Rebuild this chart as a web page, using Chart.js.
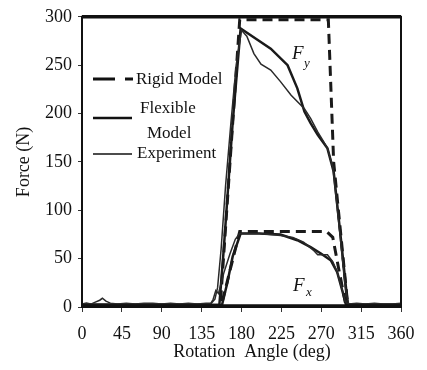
<!DOCTYPE html>
<html>
<head>
<meta charset="utf-8">
<script src="https://cdn.jsdelivr.net/npm/chart.js@4/dist/chart.umd.min.js"></script>
<style>
  html, body { margin: 0; padding: 0; background: #fff; }
  #wrap { width: 427px; height: 370px; }
</style>
</head>
<body>
<div id="wrap"><canvas id="myChart" width="427" height="370"></canvas></div>
<script>
// Tick labels
const xTicks = [0, 45, 90, 135, 180, 225, 270, 315, 360];
const yTicks = [0, 50, 100, 150, 200, 250, 300];

// Fy curves
const rigidFyAngle = [0, 156, 178, 278, 284, 300, 360];
const rigidFyForce = [1, 1, 297, 297, 150, 1, 1];

const flexFyAngle = [0, 155, 160, 165, 170, 179, 195, 213, 232, 243, 251, 258, 266, 277, 284, 292, 300, 360];
const flexFyForce = [2, 2, 60, 125, 190, 288, 278, 267, 250, 226, 202, 190, 178, 164, 140, 72, 2, 2];

const expFyAngle = [0, 5, 10, 15, 20, 23, 27, 32, 40, 50, 60, 70, 80, 90, 100, 110, 120, 130, 140, 146, 150, 153, 157, 162, 168, 174, 180, 186, 194, 202, 213, 224, 236, 251, 258, 266, 272, 277, 283, 290, 297, 301, 310, 320, 330, 340, 350, 360];
const expFyForce = [3, 4, 3, 5, 7, 9, 6, 4, 3, 4, 3, 4, 4, 3, 4, 3, 4, 3, 4, 4, 8, 20, 60, 125, 190, 250, 286, 280, 262, 251, 245, 233, 219, 205, 195, 181, 172, 164, 145, 85, 20, 3, 4, 3, 4, 3, 3, 4];

// Fx curves
const rigidFxAngle = [0, 157, 178, 276, 283, 290, 298, 360];
const rigidFxForce = [1, 1, 78, 78, 72, 38, 1, 1];

const flexFxAngle = [0, 158, 164, 170, 179, 200, 224, 243, 258, 270, 281, 288, 294, 298, 360];
const flexFxForce = [2, 2, 25, 52, 76, 76, 75, 69, 62, 55, 48, 36, 16, 2, 2];

const expFxAngle = [0, 145, 148, 151, 154, 160, 167, 173, 178, 200, 224, 238, 250, 262, 266, 277, 283, 288, 293, 297, 300, 360];
const expFxForce = [3, 3, 8, 17, 14, 35, 55, 70, 76, 76, 74, 72, 67, 58, 54, 54, 47, 36, 20, 6, 3, 3];

function points(angles, forces) {
    return angles.map((a, i) => ({ x: a, y: forces[i] }));
}

const rigidStyle = { borderColor: '#1a1a1a', borderWidth: 3, borderDash: [10, 6] };
const flexStyle = { borderColor: '#1a1a1a', borderWidth: 2.5 };
const expStyle = { borderColor: '#2a2a2a', borderWidth: 1.5 };

const serif = '"Liberation Serif", "DejaVu Serif", serif';

// Frame, legend, axis title and curve labels
const decorations = {
    id: 'decorations',
    afterDraw(chart) {
        const c = chart.ctx;
        const a = chart.chartArea;
        c.save();
        c.strokeStyle = '#111';
        c.lineWidth = 2;
        c.strokeRect(a.left, a.top, a.right - a.left, a.bottom - a.top);
        c.lineWidth = 3.5;
        c.beginPath();
        c.moveTo(a.left, a.top); c.lineTo(a.right, a.top);
        c.moveTo(a.left, a.bottom - 1); c.lineTo(a.right, a.bottom - 1);
        c.stroke();

        // legend samples
        c.lineWidth = 3;
        c.setLineDash([22, 10]);
        c.beginPath(); c.moveTo(93, 79); c.lineTo(133, 79); c.stroke();
        c.setLineDash([]);
        c.lineWidth = 2.5;
        c.beginPath(); c.moveTo(93, 118); c.lineTo(132, 118); c.stroke();
        c.lineWidth = 1.5;
        c.beginPath(); c.moveTo(93, 154); c.lineTo(132, 154); c.stroke();

        c.fillStyle = '#111';
        c.font = '17px ' + serif;
        c.textBaseline = 'middle';
        c.fillText('Rigid Model', 136, 80);
        c.fillText('Flexible', 140, 109);
        c.fillText('Model', 147, 134);
        c.fillText('Experiment', 137, 154);

        c.font = '18px ' + serif;
        c.textAlign = 'center';
        c.fillText('Rotation  Angle (deg)', 252, 352);
        c.textAlign = 'left';

        c.font = 'italic 19px ' + serif;
        c.fillText('F', 292, 54);
        c.fillText('F', 293, 286);
        c.font = 'italic 13px ' + serif;
        c.fillText('y', 304, 64);
        c.fillText('x', 306, 293);
        c.restore();
    }
};

new Chart(document.getElementById('myChart'), {
    type: 'line',
    data: {
        datasets: [
            { data: points(expFyAngle, expFyForce), ...expStyle },
            { data: points(expFxAngle, expFxForce), ...expStyle },
            { data: points(flexFyAngle, flexFyForce), ...flexStyle },
            { data: points(flexFxAngle, flexFxForce), ...flexStyle },
            { data: points(rigidFyAngle, rigidFyForce), ...rigidStyle },
            { data: points(rigidFxAngle, rigidFxForce), ...rigidStyle }
        ]
    },
    options: {
        responsive: false,
        animation: false,
        layout: { padding: { left: 0, right: 26, top: 14, bottom: 0 } },
        elements: { point: { radius: 0 }, line: { tension: 0, fill: false } },
        plugins: { legend: { display: false }, tooltip: { enabled: false } },
        scales: {
            x: {
                type: 'linear',
                min: 0,
                max: 360,
                afterBuildTicks: s => { s.ticks = xTicks.map(v => ({ value: v })); },
                afterFit: s => { s.height = 63; },
                grid: { drawOnChartArea: false, tickLength: 5, color: '#333' },
                border: { display: false },
                ticks: { color: '#111', padding: 11, maxRotation: 0, font: { family: serif, size: 18 } }
            },
            y: {
                min: 0,
                max: 300,
                afterBuildTicks: s => { s.ticks = yTicks.map(v => ({ value: v })); },
                afterFit: s => { s.width = 82; },
                grid: { drawOnChartArea: false, tickLength: 4, color: '#333' },
                border: { display: false },
                ticks: { color: '#111', padding: 6, font: { family: serif, size: 18 } },
                title: {
                    display: true,
                    text: 'Force (N)',
                    color: '#111',
                    padding: { top: 13, bottom: 0 },
                    font: { family: serif, size: 18 }
                }
            }
        }
    },
    plugins: [decorations]
});
</script>
</body>
</html>
